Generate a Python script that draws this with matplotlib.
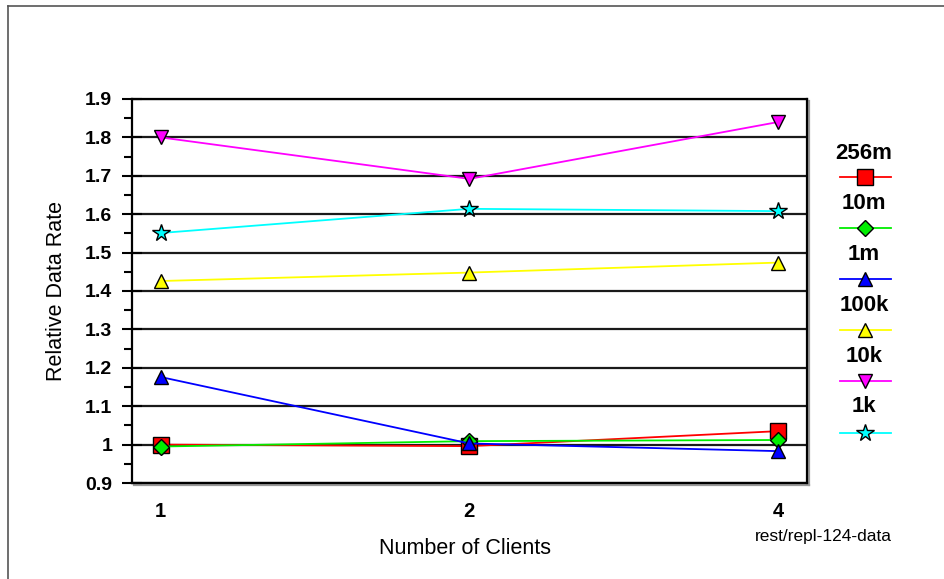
import matplotlib
matplotlib.use("Agg")
import matplotlib.pyplot as plt
from matplotlib.lines import Line2D
from matplotlib.ticker import MultipleLocator, FixedLocator

plt.rcParams['font.family'] = ['Liberation Sans', 'DejaVu Sans']

# Data
clients = ["1", "2", "4"]
series_names = ["256m", "10m", "1m", "100k", "10k", "1k"]
rate_256m = [1.000, 0.996, 1.035]
rate_10m = [0.995, 1.009, 1.012]
rate_1m = [1.176, 1.003, 0.983]
rate_100k = [1.426, 1.448, 1.474]
rate_10k = [1.800, 1.692, 1.840]
rate_1k = [1.551, 1.614, 1.608]
y_ticks = [0.9, 1.0, 1.1, 1.2, 1.3, 1.4, 1.5, 1.6, 1.7, 1.8, 1.9]
y_tick_labels = ["0.9", "1", "1.1", "1.2", "1.3", "1.4", "1.5", "1.6", "1.7", "1.8", "1.9"]

values = [rate_256m, rate_10m, rate_1m, rate_100k, rate_10k, rate_1k]
colors = ["#ff0000", "#00ee00", "#0000ff", "#ffff00", "#ff00ff", "#00ffff"]
markers = ["s", "D", "^", "^", "v", "*"]
msizes = [11, 8, 10.5, 10.5, 10.5, 13]

W, H = 944, 579
fig = plt.figure(figsize=(W / 100, H / 100), dpi=100)

def fx(px):
    return px / W

def fy(py):
    return 1 - py / H

left, right, top, bottom = 131.7, 807, 99, 483
ax = fig.add_axes([fx(left), fy(bottom), fx(right) - fx(left), fy(top) - fy(bottom)])

xpos = list(range(1, len(clients) + 1))
for vals, c, m, ms in zip(values, colors, markers, msizes):
    ax.plot(xpos, vals, color=c, lw=1.3, marker=m, markersize=ms,
            markerfacecolor=c, markeredgecolor="black", markeredgewidth=1.0,
            zorder=3)

ax.set_xlim(1 - 0.094, len(clients) + 0.094)
ax.set_ylim(0.9, 1.9)
ax.set_xticks(xpos)
ax.set_xticklabels(clients)
ax.yaxis.set_major_locator(FixedLocator(y_ticks))
ax.set_yticklabels(y_tick_labels)
ax.yaxis.set_minor_locator(MultipleLocator(0.05))

ax.grid(axis="y", which="major", color="#1a1a1a", lw=1.6, zorder=1)
ax.tick_params(axis="y", which="major", direction="inout", length=14, width=1.5,
               labelsize=14, pad=7)
ax.tick_params(axis="y", which="minor", direction="out", length=6, width=1.5)
ax.tick_params(axis="x", which="both", length=0, labelsize=14.5, pad=14)
for lab in ax.get_xticklabels() + ax.get_yticklabels():
    lab.set_fontweight("bold")

for side in ["left", "right", "top", "bottom"]:
    ax.spines[side].set_linewidth(1.6)
    ax.spines[side].set_color("black")

# drop shadow along the right and bottom frame edges
fig.add_artist(Line2D([fx(left + 2), fx(right + 2)], [fy(bottom + 2.2)] * 2,
                      color="#999999", lw=1.6, zorder=0))
fig.add_artist(Line2D([fx(right + 2.2)] * 2, [fy(top + 2), fy(bottom + 2)],
                      color="#999999", lw=1.6, zorder=0))

fig.text(fx(57), fy(291), "Relative Data Rate", ha="center", va="center",
         rotation=90, fontsize=15.5)
fig.text(fx(465), fy(549), "Number of Clients", ha="center", va="center", fontsize=15.5)
fig.text(fx(823), fy(536), "rest/repl-124-data", ha="center", va="center", fontsize=12.5)

# legend: name above each line sample
label_y = [153, 203.5, 254.5, 305.5, 356.5, 406.5]
line_y = [177, 228, 279, 330, 381, 433]
for name, c, m, ms, ly, sy in zip(series_names, colors, markers, msizes, label_y, line_y):
    fig.text(fx(864), fy(ly), name, ha="center", va="center", fontsize=16,
             fontweight="bold")
    fig.add_artist(Line2D([fx(839.5), fx(890.5)], [fy(sy)] * 2, color=c, lw=1.3))
    fig.add_artist(Line2D([fx(865)], [fy(sy)], marker=m, markersize=ms,
                          markerfacecolor=c, markeredgecolor="black",
                          markeredgewidth=1.0, linestyle="none"))

# outer frame
fig.add_artist(Line2D([fx(8), fx(8)], [fy(6), 0], color="#555555", lw=1.2))
fig.add_artist(Line2D([fx(8), 1], [fy(6), fy(6)], color="#555555", lw=1.2))

fig.savefig("out.png", dpi=100)
